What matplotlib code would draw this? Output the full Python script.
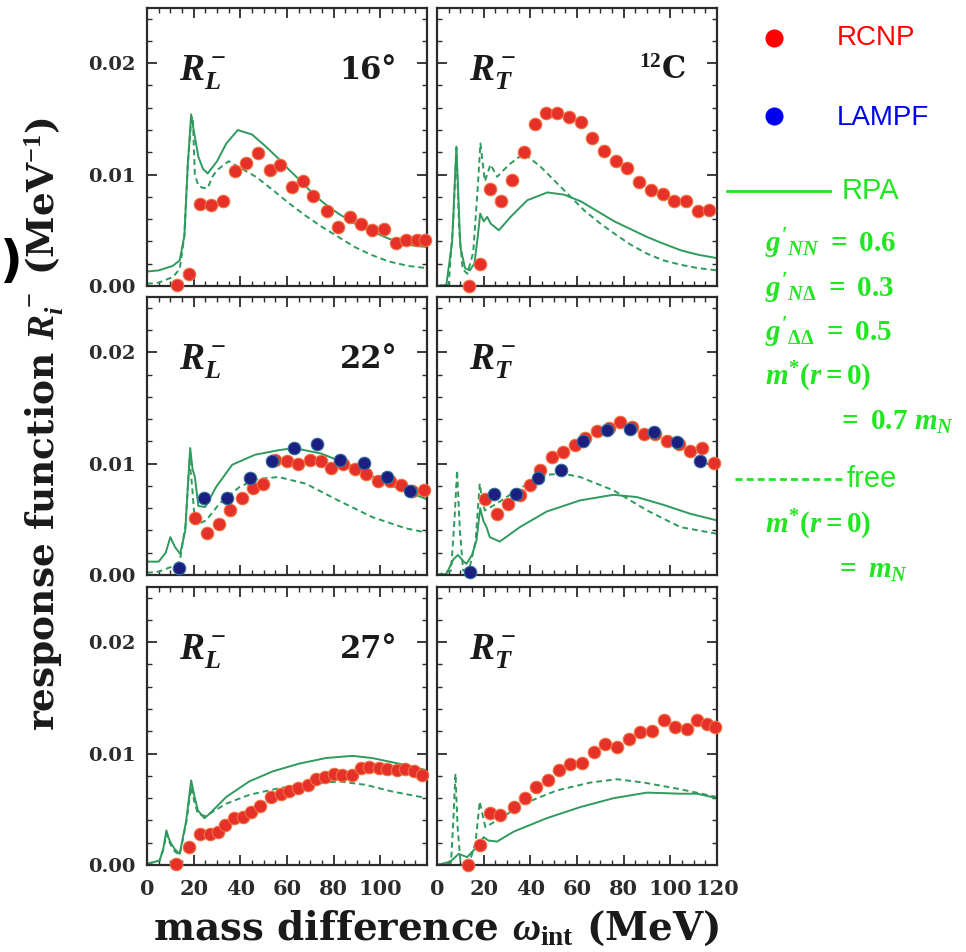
# Response functions R_L^- and R_T^- for 12C at three angles, RCNP/LAMPF data vs RPA and free curves

import matplotlib
matplotlib.use('Agg')
import matplotlib.pyplot as plt
from matplotlib.ticker import MultipleLocator

plt.rcParams['font.family'] = 'DejaVu Serif'
plt.rcParams['font.weight'] = 'bold'
plt.rcParams['mathtext.fontset'] = 'custom'
plt.rcParams['mathtext.it'] = 'Liberation Serif:italic:bold'
plt.rcParams['mathtext.rm'] = 'Liberation Serif:bold'
plt.rcParams['mathtext.bf'] = 'Liberation Serif:bold'

# ---- 16 deg, longitudinal ----
l16_red_x = [13, 18, 22.5, 27.5, 32.5, 37.5, 42.5, 47.5, 52.5, 57, 62, 67, 71, 77, 82, 87,
             91.5, 96.5, 101.5, 106.5, 111, 115.5, 119]
l16_red_y = [0.0001, 0.00105, 0.0074, 0.0073, 0.0076, 0.0103, 0.0110, 0.0119, 0.0104, 0.0109,
             0.0089, 0.0094, 0.0081, 0.0067, 0.0053, 0.0062, 0.0056, 0.0050, 0.0051, 0.0039,
             0.0041, 0.0041, 0.0041]
l16_rpa_x = [0, 5, 11, 14, 16, 17.5, 18.9, 20, 22, 24, 26, 30, 34, 38.9, 45, 51, 56, 61, 66,
             71, 76, 82, 89, 96.5, 103, 109, 115, 120]
l16_rpa_y = [0.0013, 0.0014, 0.0018, 0.0023, 0.0045, 0.0110, 0.0154, 0.0140, 0.0116, 0.0105,
             0.0101, 0.0112, 0.0128, 0.0140, 0.0136, 0.0125, 0.0115, 0.0104, 0.0094, 0.0083,
             0.0074, 0.0065, 0.0056, 0.0049, 0.0043, 0.0038, 0.0036, 0.0035]
l16_free_x = [0, 5, 11, 14, 16, 17.5, 19, 19.6, 20.5, 22, 24, 26, 28, 30, 35, 40, 46.7, 54,
              61, 68, 75, 82, 89, 96, 103.6, 112, 120]
l16_free_y = [0.0002, 0.0003, 0.0008, 0.0015, 0.0045, 0.0110, 0.0150, 0.0152, 0.0100, 0.0090,
              0.0088, 0.0088, 0.0098, 0.0104, 0.0112, 0.0106, 0.0098, 0.0086, 0.0074, 0.0063,
              0.0053, 0.0044, 0.0035, 0.0028, 0.0022, 0.0018, 0.0016]

# ---- 16 deg, transverse ----
t16_red_x = [13.5, 18.3, 22.6, 27.5, 32.2, 37.2, 41.8, 46.5, 51.6, 56.6, 61.6, 66.6, 71.6,
             76.6, 81.6, 86.6, 91.6, 96.7, 101.7, 106.7, 111.7, 116.4]
t16_red_y = [0.0, 0.0020, 0.0087, 0.0076, 0.0095, 0.0120, 0.0145, 0.0155, 0.0155, 0.0152,
             0.0147, 0.0133, 0.0121, 0.0112, 0.0106, 0.0093, 0.0086, 0.0083, 0.0076, 0.0076,
             0.0067, 0.0068]
t16_rpa_x = [0, 4, 6.5, 8.3, 10, 12, 14, 16, 17.5, 18.5, 20, 21.5, 23, 26.5, 31.5, 38.7, 47.3,
             54.4, 61.6, 68, 76, 83, 90, 97, 104.5, 112, 120]
t16_rpa_y = [0.0, 0.0001, 0.0040, 0.0125, 0.0035, 0.0016, 0.0014, 0.0020, 0.0045, 0.0065,
             0.0058, 0.0062, 0.0056, 0.0050, 0.0062, 0.0077, 0.0084, 0.0082, 0.0076, 0.0068,
             0.0058, 0.0051, 0.0044, 0.0038, 0.0032, 0.0028, 0.0025]
t16_free_x = [0, 5, 7, 8.3, 9.5, 11, 13, 15.5, 17.5, 18.6, 20.5, 22.9, 25.8, 28.5, 31.5, 37.2,
              44.4, 54.4, 63, 70, 76, 83, 90, 97, 104.5, 112, 120]
t16_free_y = [0.0, 0.0001, 0.0060, 0.0124, 0.0050, 0.0015, 0.0011, 0.0030, 0.0090, 0.0128,
              0.0094, 0.0109, 0.0098, 0.0104, 0.0110, 0.0119, 0.0107, 0.0086, 0.0068, 0.0056,
              0.0047, 0.0037, 0.0029, 0.0023, 0.0019, 0.0016, 0.0014]

# ---- 22 deg, longitudinal ----
l22_red_x = [20.4, 25.8, 31, 35.6, 40.9, 45.6, 49.5, 54.8, 59.8, 64.8, 69.7, 74.4, 79, 84,
             89, 94, 99, 104, 108.9, 113.5, 118.6]
l22_red_y = [0.0051, 0.0038, 0.0046, 0.0058, 0.0069, 0.0078, 0.0082, 0.0103, 0.0102, 0.0100,
             0.0103, 0.0102, 0.0096, 0.0100, 0.0095, 0.0091, 0.0084, 0.0084, 0.0081, 0.0075,
             0.0076]
l22_blue_x = [13.8, 24.2, 34.2, 44.1, 53.4, 62.9, 72.9, 82.8, 92.8, 102.8, 112.9]
l22_blue_y = [0.0006, 0.0069, 0.0069, 0.0087, 0.0102, 0.0114, 0.0118, 0.0103, 0.0101, 0.0088,
              0.0075]
l22_rpa_x = [0, 5, 8, 10, 12, 14.2, 16.4, 17.5, 18.5, 19.5, 20.5, 22, 24.9, 29.6, 36.5, 46.3,
             56.3, 63, 74.7, 89, 103.6, 120]
l22_rpa_y = [0.0012, 0.0012, 0.0020, 0.0034, 0.0025, 0.0019, 0.0040, 0.0080, 0.0114, 0.0095,
             0.0088, 0.0062, 0.0061, 0.0079, 0.0099, 0.0108, 0.0112, 0.0114, 0.0109, 0.0097,
             0.0081, 0.0068]
l22_free_x = [0, 5, 10, 14, 16.5, 18.2, 19.3, 20.4, 22, 25.3, 31, 39.6, 46.7, 56.3, 68, 81.9,
              96.5, 110.7, 120]
l22_free_y = [0.0002, 0.0003, 0.0007, 0.0012, 0.0045, 0.0103, 0.0080, 0.0050, 0.0046, 0.0049,
              0.0064, 0.0079, 0.0086, 0.0088, 0.0082, 0.0067, 0.0052, 0.0042, 0.0038]

# ---- 22 deg, transverse ----
t22_red_x = [20.5, 25.5, 30.5, 35.5, 39.8, 44.1, 49.1, 54.1, 59, 63.4, 68.5, 73.5, 78.5, 83.5,
             88.5, 93.5, 98.5, 103.5, 108.5, 113.6, 118.6]
t22_red_y = [0.0068, 0.0055, 0.0064, 0.0072, 0.0081, 0.0094, 0.0106, 0.0110, 0.0117, 0.0123,
             0.0129, 0.0132, 0.0137, 0.0133, 0.0127, 0.0127, 0.0120, 0.0118, 0.0111, 0.0114,
             0.0101]
t22_blue_x = [14.0, 24.3, 33.8, 43.1, 53.1, 62.7, 72.7, 82.8, 93.1, 102.8, 112.6]
t22_blue_y = [0.0003, 0.0073, 0.0073, 0.0087, 0.0094, 0.0120, 0.0130, 0.0131, 0.0128, 0.0119,
              0.0102]
t22_rpa_x = [0, 4, 5.4, 7, 9, 11, 12.6, 15, 16.9, 18.5, 19.8, 21.2, 22.6, 26.9, 35.5, 47,
             61.3, 75.6, 85.6, 97, 108.5, 120]
t22_rpa_y = [0.0, 0.0001, 0.0007, 0.0014, 0.0018, 0.0013, 0.0010, 0.0018, 0.0031, 0.0060,
             0.0049, 0.0043, 0.0034, 0.0030, 0.0043, 0.0057, 0.0067, 0.0072, 0.0070, 0.0063,
             0.0055, 0.0049]
t22_free_x = [0, 6, 7.5, 8.6, 9.8, 11.2, 14, 16.5, 18.3, 19.5, 20.5, 25.5, 35.5, 47, 54, 61.3,
              75.6, 90, 104.3, 120]
t22_free_y = [0.0, 0.0004, 0.0050, 0.0094, 0.0040, 0.0004, 0.0007, 0.0030, 0.0082, 0.0065,
              0.0058, 0.0064, 0.0078, 0.0090, 0.0091, 0.0088, 0.0076, 0.0058, 0.0043, 0.0037]

# ---- 27 deg, longitudinal ----
l27_red_x = [12.5, 17.9, 22.5, 26.8, 30.3, 33.6, 37.4, 41, 44.6, 48.4, 53.1, 57.4, 60.9, 64.9,
             68.8, 72.3, 76.3, 80.1, 83.7, 88, 91.5, 95.1, 99.4, 102.9, 107.2, 110.7, 114.3,
             117.9]
l27_red_y = [0.0001, 0.0016, 0.0028, 0.0028, 0.0030, 0.0036, 0.0042, 0.0043, 0.0048, 0.0053,
             0.0061, 0.0064, 0.0066, 0.0069, 0.0072, 0.0077, 0.0079, 0.0082, 0.0081, 0.0081,
             0.0087, 0.0088, 0.0087, 0.0086, 0.0085, 0.0086, 0.0084, 0.0081]
l27_rpa_x = [0, 5.4, 7, 8.3, 9.3, 10.4, 12, 14, 16.8, 18.9, 20.5, 21.8, 24.6, 26.8, 33.9, 43.8,
             53.8, 65.2, 76.6, 88, 96.5, 107.9, 120]
l27_rpa_y = [0.0001, 0.0004, 0.0015, 0.0031, 0.0024, 0.0019, 0.0014, 0.0010, 0.0040, 0.0076,
             0.0060, 0.0049, 0.0042, 0.0046, 0.0061, 0.0075, 0.0084, 0.0091, 0.0096, 0.0098,
             0.0096, 0.0091, 0.0085]
l27_free_x = [0, 5.4, 7, 8.3, 9.3, 10.4, 12, 14, 16.8, 18.9, 20.5, 21.8, 24.6, 26.8, 33.9,
              43.8, 56.7, 70.9, 82.3, 93.6, 105, 120]
l27_free_y = [0.0001, 0.0004, 0.0014, 0.0028, 0.0022, 0.0017, 0.0012, 0.0009, 0.0038, 0.0070,
              0.0055, 0.0046, 0.0044, 0.0046, 0.0055, 0.0063, 0.0069, 0.0073, 0.0075, 0.0072,
              0.0066, 0.0060]

# ---- 27 deg, transverse ----
t27_red_x = [13.1, 18.3, 22.6, 27.1, 32.9, 37.9, 42.6, 47.4, 52.1, 57.1, 62.1, 67.1, 72.1,
             77.1, 82.1, 87.1, 92.1, 97.1, 102.1, 107.1, 111.4, 115.7, 119.3]
t27_red_y = [0.0, 0.0018, 0.0047, 0.0045, 0.0052, 0.0060, 0.0070, 0.0076, 0.0085, 0.0091,
             0.0092, 0.0101, 0.0109, 0.0106, 0.0113, 0.0119, 0.0120, 0.0130, 0.0124, 0.0122,
             0.0130, 0.0127, 0.0124]
t27_rpa_x = [0, 5.7, 9.3, 12.9, 17, 20, 22, 25.7, 32.9, 47, 61.4, 75.7, 90, 104.3, 111.4, 120]
t27_rpa_y = [0.0, 0.0003, 0.0010, 0.0007, 0.0016, 0.0025, 0.0022, 0.0021, 0.0030, 0.0042,
             0.0052, 0.0060, 0.0065, 0.0064, 0.0064, 0.0060]
t27_free_x = [0, 6, 7, 7.9, 8.8, 10, 14, 16.5, 18.3, 19.5, 20.7, 25.7, 37.1, 51.4, 65.7, 77.1,
              88.6, 104.3, 120]
t27_free_y = [0.0, 0.0002, 0.0040, 0.0082, 0.0035, 0.0004, 0.0003, 0.0020, 0.0057, 0.0045,
              0.0034, 0.0040, 0.0055, 0.0067, 0.0074, 0.0077, 0.0074, 0.0068, 0.0061]

panel_names = [r'$R_L^-$', r'$R_T^-$']
angle_labels = ['16°', '22°', '27°']
x_ticks = [0, 20, 40, 60, 80, 100, 120]
y_ticks = [0.0, 0.01, 0.02]

CURVE = '#2f9a5e'
RED = '#e5312a'
RED_EDGE = '#f2703c'
BLUE = '#1d1f80'
BLUE_EDGE = '#2f6f9a'
LEGEND_GREEN = '#22e622'

panels = [
    [(l16_rpa_x, l16_rpa_y, l16_free_x, l16_free_y, l16_red_x, l16_red_y, None, None),
     (t16_rpa_x, t16_rpa_y, t16_free_x, t16_free_y, t16_red_x, t16_red_y, None, None)],
    [(l22_rpa_x, l22_rpa_y, l22_free_x, l22_free_y, l22_red_x, l22_red_y, l22_blue_x, l22_blue_y),
     (t22_rpa_x, t22_rpa_y, t22_free_x, t22_free_y, t22_red_x, t22_red_y, t22_blue_x, t22_blue_y)],
    [(l27_rpa_x, l27_rpa_y, l27_free_x, l27_free_y, l27_red_x, l27_red_y, None, None),
     (t27_rpa_x, t27_rpa_y, t27_free_x, t27_free_y, t27_red_x, t27_red_y, None, None)],
]

fig = plt.figure(figsize=(9.66, 9.52), dpi=100)

# overlay in pixel coordinates for the key on the right
key = fig.add_axes([0, 0, 1, 1])
key.set_xlim(0, 966)
key.set_ylim(952, 0)
key.axis('off')

col_left = [0.1522, 0.4524]
row_bottom = [0.6996, 0.3960, 0.0914]
w, h = 0.2899, 0.2925

for r in range(3):
    for c in range(2):
        rpa_x, rpa_y, free_x, free_y, red_x, red_y, blue_x, blue_y = panels[r][c]
        ax = fig.add_axes([col_left[c], row_bottom[r], w, h])
        ax.plot(rpa_x, rpa_y, color=CURVE, lw=1.4)
        ax.plot(free_x, free_y, color=CURVE, lw=1.4, ls=(0, (3, 2)))
        ax.plot(red_x, red_y, 'o', ms=9, mfc=RED, mec=RED_EDGE, mew=0.8, clip_on=False, zorder=3)
        if blue_x is not None:
            ax.plot(blue_x, blue_y, 'o', ms=9, mfc=BLUE, mec=BLUE_EDGE, mew=0.8, clip_on=False, zorder=4)

        ax.set_xlim(0, 120)
        ax.set_ylim(0, 0.025)
        ax.set_xticks(x_ticks)
        ax.set_yticks(y_ticks)
        ax.xaxis.set_minor_locator(MultipleLocator(5))
        ax.yaxis.set_minor_locator(MultipleLocator(0.002))
        ax.tick_params(which='both', direction='in', top=True, right=True, colors='#2b2b2b')
        ax.tick_params(which='major', length=7, width=1.3)
        ax.tick_params(which='minor', length=3.5, width=1.0)
        ax.tick_params(axis='x', labelsize=15, pad=10)
        ax.tick_params(axis='y', labelsize=14, pad=8)
        for s in ax.spines.values():
            s.set_color('#2b2b2b')
            s.set_linewidth(1.6)

        if c == 0:
            ax.set_yticklabels(['0.00', '0.01', '0.02'])
        else:
            ax.set_yticklabels([])
        if r == 2:
            labels = [str(t) for t in x_ticks]
            if c == 0:
                labels[-1] = ''
            ax.set_xticklabels(labels)
        else:
            ax.set_xticklabels([])

        ax.text(0.115, 0.77, panel_names[c], transform=ax.transAxes, fontsize=27,
                ha='left', va='center', color='#1a1a1a')
        if c == 0:
            ax.text(0.893, 0.775, angle_labels[r], transform=ax.transAxes, fontsize=22,
                    ha='right', va='center', color='#1a1a1a')
        elif r == 0:
            ax.text(0.889, 0.775, r'$^{12}$C', transform=ax.transAxes, fontsize=22,
                    ha='right', va='center', color='#1a1a1a')

# axis titles
fig.text(0.046, 0.555, r'response function $R_i^-$ (MeV$^{-1}$)', rotation=90,
         ha='center', va='center', fontsize=27, color='#1a1a1a')
fig.text(0.452, 0.025, r'mass difference $\omega_{\rm int}$ (MeV)',
         ha='center', va='center', fontsize=28, color='#1a1a1a')
fig.text(0.0, 0.725, ')', fontsize=36, fontweight='bold', family='DejaVu Sans',
         ha='left', va='center', color='black')

# key
key.plot([774], [38], 'o', ms=12, color='#ff0000')
key.text(837, 38, 'RCNP', family='Liberation Sans', fontweight='normal', fontsize=20,
         color='#ff0000', va='center')
key.plot([774], [116], 'o', ms=12, color='#0000ee')
key.text(837, 118, 'LAMPF', family='Liberation Sans', fontweight='normal', fontsize=20,
         color='#0000ee', va='center')
key.plot([727, 830], [191, 191], color=LEGEND_GREEN, lw=2)
key.text(842, 191, 'RPA', family='Liberation Sans', fontweight='normal', fontsize=21,
         color=LEGEND_GREEN, va='center')
key.text(765, 244, r"$g'_{NN}\ =\ 0.6$", fontsize=21, color=LEGEND_GREEN, va='center')
key.text(765, 289, r"$g'_{N\Delta}\ =\ 0.3$", fontsize=21, color=LEGEND_GREEN, va='center')
key.text(765, 333, r"$g'_{\Delta\Delta}\ =\ 0.5$", fontsize=21, color=LEGEND_GREEN, va='center')
key.text(765, 377, r"$m^{*}(r=0)$", fontsize=21, color=LEGEND_GREEN, va='center')
key.text(837, 422, r"$=\ 0.7\ m_N$", fontsize=21, color=LEGEND_GREEN, va='center')
key.plot([735, 843], [479, 479], color=LEGEND_GREEN, lw=2, ls=(0, (2.5, 1.5)))
key.text(847, 479, 'free', family='Liberation Sans', fontweight='normal', fontsize=21,
         color=LEGEND_GREEN, va='center')
key.text(765, 525, r"$m^{*}(r=0)$", fontsize=21, color=LEGEND_GREEN, va='center')
key.text(835, 570, r"$=\ m_N$", fontsize=21, color=LEGEND_GREEN, va='center')

fig.savefig('out.png', dpi=100)
